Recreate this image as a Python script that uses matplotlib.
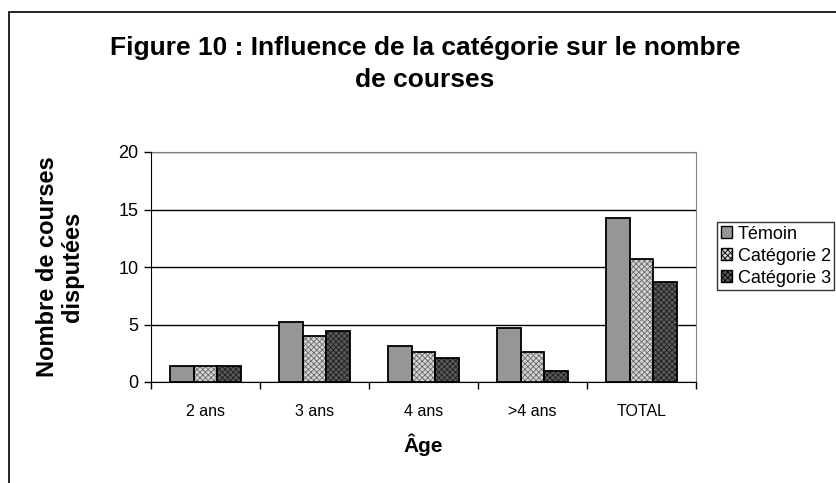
import matplotlib.pyplot as plt
import matplotlib.patches as mpatches
import numpy as np

plt.rcParams['font.family'] = ['Liberation Sans', 'DejaVu Sans']
plt.rcParams['hatch.linewidth'] = 0.6

# Data
categories = ['2 ans', '3 ans', '4 ans', '>4 ans', 'TOTAL']
series_names = ['Témoin', 'Catégorie 2', 'Catégorie 3']
temoin = [1.35, 5.2, 3.1, 4.7, 14.3]
categorie2 = [1.35, 4.0, 2.6, 2.6, 10.7]
categorie3 = [1.35, 4.4, 2.1, 1.0, 8.7]
yticks = [0, 5, 10, 15, 20]

series = [temoin, categorie2, categorie3]
faces = ['#969696', '#d4d4d4', '#5a5a5a']
hatch_cols = ['#969696', '#6a6a6a', '#1e1e1e']
hatches = [None, 'xxxxxx', 'xxxxxx']

fig = plt.figure(figsize=(8.37, 4.83), dpi=100)
ax = fig.add_axes([151/837, 1 - 382/483, 545/837, 230/483])

x = np.arange(len(categories))
w = 0.22
handles = []
for i, vals in enumerate(series):
    pos = x + (i - 1) * w
    ax.bar(pos, vals, w, color=faces[i], hatch=hatches[i], edgecolor=hatch_cols[i],
           linewidth=0, zorder=3)
    ax.bar(pos, vals, w, fill=False, edgecolor='black', linewidth=1.3, zorder=4)
    handles.append(mpatches.Patch(facecolor=faces[i], hatch=hatches[i],
                                  edgecolor='black', linewidth=1.0))

ax.set_xlim(-0.5, len(categories) - 0.5)
ax.set_ylim(0, 20)
ax.set_yticks(yticks)
ax.tick_params(axis='y', labelsize=13, length=5, width=1, pad=4)
ax.yaxis.grid(True, color='black', linewidth=1)
ax.set_axisbelow(True)

ax.set_xticks(x)
ax.set_xticklabels(categories)
ax.tick_params(axis='x', which='major', length=0, labelsize=11.5, pad=16)
ax.set_xticks(np.arange(len(categories) + 1) - 0.5, minor=True)
ax.tick_params(axis='x', which='minor', length=5, width=1)

for s in ['top', 'right']:
    ax.spines[s].set_color('#808080')
for s in ['left', 'bottom']:
    ax.spines[s].set_color('black')
    ax.spines[s].set_zorder(5)

fig.text(423/837, 1 - 445/483, 'Âge', ha='center', va='center',
         fontsize=15, fontweight='bold')
fig.text(60/837, 1 - 267/483, 'Nombre de courses\ndisputées', rotation=90,
         ha='center', va='center', fontsize=17, fontweight='bold',
         multialignment='center', linespacing=1.15)

fig.text(425/837, 1 - 64/483, 'Figure 10 : Influence de la catégorie sur le nombre\nde courses',
         ha='center', va='center', fontsize=19, fontweight='bold',
         multialignment='center', linespacing=1.4)

leg = fig.legend(handles, series_names, loc='upper left',
                 bbox_to_anchor=(717/837, 1 - 222/483), fontsize=13,
                 frameon=True, fancybox=False, edgecolor='black',
                 handlelength=0.65, handleheight=0.65, handletextpad=0.3,
                 borderpad=0.2, labelspacing=0.28, borderaxespad=0)
leg.get_frame().set_linewidth(1)

# outer chart frame
fig.patches.append(mpatches.Rectangle((9/837, -0.5), 2, 0.5 + 1 - 12/483,
                                      transform=fig.transFigure, fill=False,
                                      edgecolor='black', linewidth=1.2))

fig.savefig('out.png', dpi=100)
